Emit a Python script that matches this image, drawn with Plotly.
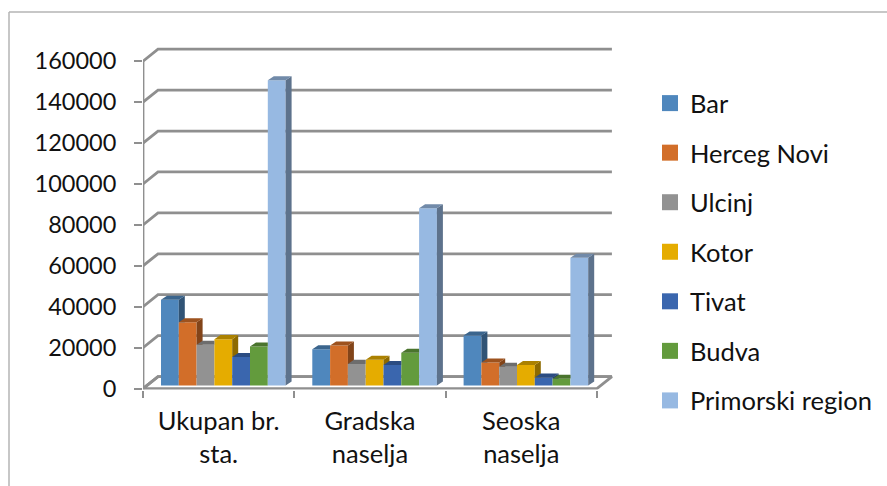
import plotly.graph_objects as go

categories = ["Ukupan br.<br>sta.", "Gradska<br>naselja", "Seoska<br>naselja"]
series_names = ["Bar", "Herceg Novi", "Ulcinj", "Kotor", "Tivat", "Budva", "Primorski region"]
bar_vals = [42000, 17800, 24500]
herceg_novi = [31000, 19600, 11300]
ulcinj = [20000, 10600, 9200]
kotor = [22700, 12600, 10000]
tivat = [14000, 10100, 3900]
budva = [19100, 16000, 3300]
primorski = [149200, 86700, 62500]
y_ticks = [0, 20000, 40000, 60000, 80000, 100000, 120000, 140000, 160000]
all_series = [bar_vals, herceg_novi, ulcinj, kotor, tivat, budva, primorski]

colors = ["#4f87bd", "#d26e29", "#929292", "#e5ac00", "#3a66ae", "#639b3d", "#97b9e2"]
W, H = 887, 486
PX_X = 151.3
PX_Y = 326 / 160000
BAR_W = 17.8 / PX_X
BAR_START = 18 / PX_X
FLOAT = 3 / PX_Y
SIDE_X, SIDE_Y = 6 / PX_X, 4 / PX_Y
WALL_X, WALL_Y = 15 / PX_X, 12 / PX_Y
X_RANGE = [0, 473 / PX_X]
Y_RANGE = [-1 / PX_Y, 347 / PX_Y]
GRID = "#8f8f8f"
FONT = dict(family="Lato", size=23.5, color="#111111")
FONT_TEXT = dict(family="Lato", size=25.5, color="#111111")


def shade(hex_color, k):
    r, g, b = (int(hex_color[i:i + 2], 16) for i in (1, 3, 5))
    return f"rgb({int(r * k)},{int(g * k)},{int(b * k)})"


fig = go.Figure()


def wall(xs, ys):
    fig.add_trace(go.Scatter(x=xs, y=ys, mode="lines", showlegend=False, hoverinfo="skip",
                             line=dict(color=GRID, width=2.8), cliponaxis=False,
                             xaxis="x", yaxis="y"))


# floor
fig.add_trace(go.Scatter(x=[0, 3, 3 + WALL_X, WALL_X, 0], y=[0, 0, WALL_Y, WALL_Y, 0], mode="lines",
                         fill="toself", fillcolor="white", line=dict(color=GRID, width=2.8),
                         showlegend=False, hoverinfo="skip", cliponaxis=False, xaxis="x", yaxis="y"))
# gridlines on the back wall, with their diagonals on the side wall
gx, gy = [], []
for t in y_ticks:
    gx += [0, WALL_X, 3 + WALL_X, None]
    gy += [t, t + WALL_Y, t + WALL_Y, None]
wall(gx, gy)
wall([0, 0], [0, y_ticks[-1]])

for i, (name, vals, col) in enumerate(zip(series_names, all_series, colors)):
    lefts = [g + BAR_START + i * BAR_W for g in range(3)]
    fig.add_trace(go.Bar(x=[l + BAR_W / 2 for l in lefts], y=vals, base=FLOAT, width=BAR_W,
                         name=name, marker=dict(color=col, line=dict(width=0)), legendgroup=name,
                         showlegend=False, xaxis="x2", yaxis="y2"))

for i, (name, vals, col) in enumerate(zip(series_names, all_series, colors)):
    nxt = all_series[i + 1] if i + 1 < len(all_series) else None
    sx, sy, tx, ty = [], [], [], []
    for g, v in enumerate(vals):
        l = g + BAR_START + i * BAR_W
        r = l + BAR_W
        top = v + FLOAT
        nv = nxt[g] if nxt else None
        if nv is None or nv < v:
            bottom = nv + FLOAT if nv is not None else FLOAT
            sx += [r, r + SIDE_X, r + SIDE_X, r, None]
            sy += [top, top + SIDE_Y, bottom + (0 if nv is not None else SIDE_Y), bottom, None]
            tx += [l, r, r + SIDE_X, l + SIDE_X, None]
            ty += [top, top, top + SIDE_Y, top + SIDE_Y, None]
        else:
            tx += [l, r, r, l + SIDE_X, None]
            ty += [top, top, top + SIDE_Y, top + SIDE_Y, None]
    fig.add_trace(go.Scatter(x=sx, y=sy, mode="lines", fill="toself", fillcolor=shade(col, 0.62),
                             line=dict(width=0), showlegend=False, hoverinfo="skip", legendgroup=name,
                             xaxis="x2", yaxis="y2"))
    fig.add_trace(go.Scatter(x=tx, y=ty, mode="lines", fill="toself", fillcolor=shade(col, 0.75),
                             line=dict(width=0), showlegend=False, hoverinfo="skip", legendgroup=name,
                             xaxis="x2", yaxis="y2"))

# legend keys
for name, col in zip(series_names, colors):
    fig.add_trace(go.Scatter(x=[None], y=[None], mode="markers", name=name, legendgroup=name,
                             marker=dict(symbol="square", size=16, color=col), xaxis="x2", yaxis="y2"))

x_dom = [143 / W, 616 / W]
y_dom = [(H - 388) / H, (H - 40) / H]
fig.update_layout(
    width=W, height=500, margin=dict(l=0, r=0, t=0, b=0), autosize=False,
    paper_bgcolor="white", plot_bgcolor="rgba(0,0,0,0)", barmode="overlay", font=FONT,
    xaxis=dict(domain=x_dom, range=X_RANGE, visible=False, fixedrange=True),
    yaxis=dict(domain=y_dom, range=Y_RANGE, visible=False, fixedrange=True),
    xaxis2=dict(domain=x_dom, range=X_RANGE, anchor="y2", tickmode="array", tickvals=[0.5, 1.5, 2.5],
                ticktext=categories, ticks="", showgrid=False, zeroline=False, showline=False,
                ticklabelstandoff=14,
                minor=dict(tickmode="array", tickvals=[0, 1, 2, 3], ticks="outside", ticklen=7,
                           tickwidth=2, tickcolor=GRID, showgrid=False),
                tickfont=FONT_TEXT, fixedrange=True),
    yaxis2=dict(domain=y_dom, range=Y_RANGE, anchor="x2", tickmode="array", tickvals=y_ticks,
                ticktext=[str(t) for t in y_ticks], ticks="outside", ticklen=8, tickwidth=2, tickcolor=GRID,
                ticklabelstandoff=13,
                showgrid=False, zeroline=False, showline=False, tickfont=FONT, fixedrange=True),
    legend=dict(x=650 / W, xanchor="left", y=1 - 251 / H, yanchor="middle", font=FONT_TEXT, tracegroupgap=13.4,
                bgcolor="rgba(0,0,0,0)"),
    shapes=[
        dict(type="line", xref="paper", yref="paper", x0=9 / W, x1=1, y0=1 - 12 / H, y1=1 - 12 / H,
             line=dict(color="#b5b5b5", width=1.5)),
        dict(type="line", xref="paper", yref="paper", x0=9 / W, x1=9 / W, y0=0, y1=1 - 12 / H,
             line=dict(color="#b5b5b5", width=1.5)),
    ],
)
fig.write_html("out.html", post_script="document.body.style.margin='0';", config=dict(displayModeBar=False))
